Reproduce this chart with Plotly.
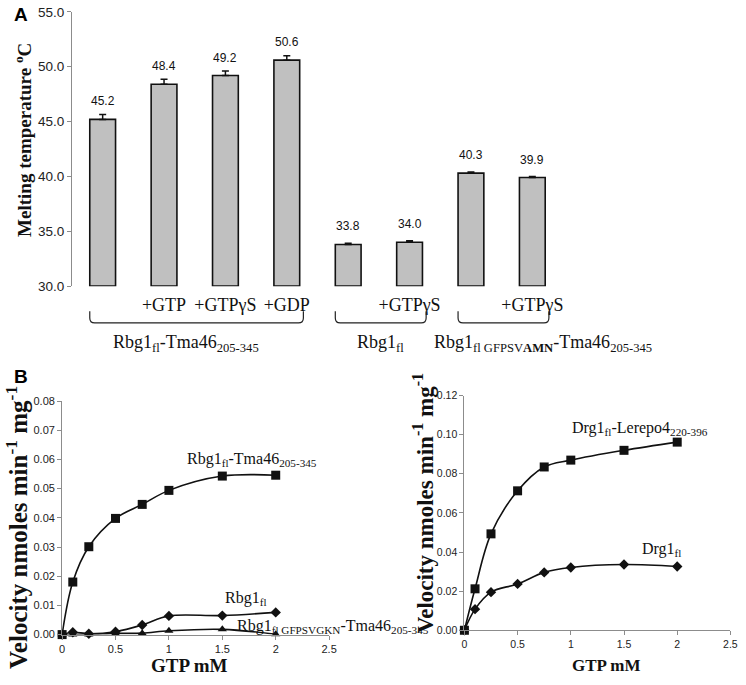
import plotly.graph_objects as go

W, H = 746, 685

# ---------------- Data: panel A ----------------
conditions = ["", "+GTP", "+GTPγS", "+GDP", "", "+GTPγS", "", "+GTPγS"]
melting_temp = [45.2, 48.4, 49.2, 50.6, 33.8, 34.0, 40.3, 39.9]
melting_err = [0.45, 0.45, 0.4, 0.4, 0.1, 0.15, 0.1, 0.1]
group_names = [
    "Rbg1<sub>fl</sub>-Tma46<sub>205-345</sub>",
    "Rbg1<sub>fl</sub>",
    "Rbg1<sub>fl GFPSV<b>AMN</b></sub>-Tma46<sub>205-345</sub>",
]
group_first = [0, 4, 6]
group_last = [3, 5, 7]
yA_ticks = [30, 35, 40, 45, 50, 55]

# ---------------- Data: panel B ----------------
gtp_mM = [0, 0.1, 0.25, 0.5, 0.75, 1, 1.5, 2]
rbg1_tma46 = [0, 0.0180, 0.0301, 0.0398, 0.0446, 0.0494, 0.0543, 0.0546]
rbg1 = [0, 0.0008, 0.0003, 0.0010, 0.0033, 0.0064, 0.0065, 0.0076]
rbg1_gkn_tma46 = [0, 0, 0, 0.0004, 0.0005, 0.0013, 0.0018, 0.0001]
drg1_lerepo4 = [0, 0.0212, 0.0493, 0.0713, 0.0835, 0.0870, 0.0920, 0.0962]
drg1 = [0, 0.0108, 0.0195, 0.0237, 0.0296, 0.0321, 0.0336, 0.0326]


def X(px):
    return px / W


def Y(py):
    return 1 - py / H


SERIF = "Liberation Serif, Times New Roman, serif"
SANS = "Liberation Sans, Arial, sans-serif"
AX_COL = "#8c8c8c"

fig = go.Figure()

# ---- Panel A bars ----
yA_min = yA_ticks[0]
xs = list(range(len(melting_temp)))
fig.add_trace(go.Bar(
    x=xs, y=[v - yA_min for v in melting_temp], base=yA_min, width=0.42,
    marker=dict(color="#c0c0c0", line=dict(color="#111111", width=1.6)),
    xaxis="x", yaxis="y", showlegend=False, cliponaxis=False,
))
fig.add_trace(go.Scatter(
    x=xs, y=melting_temp, mode="markers",
    marker=dict(size=1, opacity=0),
    error_y=dict(type="data", array=melting_err, arrayminus=[0] * len(melting_err),
                 symmetric=False, color="#111111", thickness=1.5, width=3.5),
    xaxis="x", yaxis="y", showlegend=False, cliponaxis=False,
))

annotations = []
for i, v in enumerate(melting_temp):
    annotations.append(dict(x=i, y=v, xref="x", yref="y", text=f"{v:.1f}",
                            showarrow=False, yshift=18,
                            font=dict(family=SANS, size=12, color="#111")))

shapes = []
yTop, yBot = Y(311.5), Y(323.5)
r_y = 5 / H
r_x = 0.08
for name, a, b in zip(group_names, group_first, group_last):
    x0, x1 = a - 0.21, b + 0.27
    path = (f"M {x0},{yTop} L {x0},{yBot + r_y} Q {x0},{yBot} {x0 + r_x},{yBot} "
            f"L {x1 - r_x},{yBot} Q {x1},{yBot} {x1},{yBot + r_y} L {x1},{yTop}")
    shapes.append(dict(type="path", path=path, xref="x", yref="paper",
                       line=dict(color="#222", width=1.2)))

group_centers = [186, 383, 548]
for name, cx in zip(group_names, group_centers):
    annotations.append(dict(x=X(cx), y=Y(345), xref="paper", yref="paper", text=name,
                            showarrow=False, xanchor="center", yanchor="middle",
                            font=dict(family=SERIF, size=18, color="#111")))

# ---- Panel B left ----
line_style = dict(color="#111", width=1.6, shape="spline", smoothing=1.0)
fig.add_trace(go.Scatter(x=gtp_mM, y=rbg1_gkn_tma46, mode="lines+markers", line=line_style,
                         marker=dict(symbol="triangle-up", size=8, color="#111"),
                         xaxis="x2", yaxis="y2", showlegend=False, cliponaxis=False))
fig.add_trace(go.Scatter(x=gtp_mM, y=rbg1, mode="lines+markers", line=line_style,
                         marker=dict(symbol="diamond", size=8, color="#111"),
                         xaxis="x2", yaxis="y2", showlegend=False, cliponaxis=False))
fig.add_trace(go.Scatter(x=gtp_mM, y=rbg1_tma46, mode="lines+markers", line=line_style,
                         marker=dict(symbol="square", size=9, color="#111"),
                         xaxis="x2", yaxis="y2", showlegend=False, cliponaxis=False))

# ---- Panel B right ----
fig.add_trace(go.Scatter(x=gtp_mM, y=drg1, mode="lines+markers", line=line_style,
                         marker=dict(symbol="diamond", size=8, color="#111"),
                         xaxis="x3", yaxis="y3", showlegend=False, cliponaxis=False))
fig.add_trace(go.Scatter(x=gtp_mM, y=drg1_lerepo4, mode="lines+markers", line=line_style,
                         marker=dict(symbol="square", size=9, color="#111"),
                         xaxis="x3", yaxis="y3", showlegend=False, cliponaxis=False))

# series labels
series_labels = [
    ("Rbg1<sub>fl</sub>-Tma46<sub>205-345</sub>", 185, 463, 16),
    ("Rbg1<sub>fl</sub>", 223, 605, 16),
    ("Rbg1<sub>fl GFPSVGKN</sub>-Tma46<sub>205-345</sub>", 235, 633, 16),
    ("Drg1<sub>fl</sub>-Lerepo4<sub>220-396</sub>", 575, 431, 16),
    ("Drg1<sub>fl</sub>", 647, 555, 16),
]
for t, lx, cy, sz in series_labels:
    annotations.append(dict(x=X(lx), y=Y(cy), xref="paper", yref="paper", text=t,
                            showarrow=False, xanchor="left", yanchor="middle",
                            font=dict(family=SERIF, size=sz, color="#111")))

# axis titles & panel letters
annotations += [
    dict(x=X(21), y=Y(137), text="Melting temperature <sup>o</sup>C", textangle=-90,
         font=dict(family=SERIF, size=19, color="#111", weight="bold")),
    dict(x=X(14), y=Y(532), text="Velocity nmoles min<sup>-1</sup> mg<sup>-1</sup>", textangle=-90,
         font=dict(family=SERIF, size=25, color="#111", weight="bold")),
    dict(x=X(427), y=Y(508), text="Velocity nmoles min<sup>-1</sup> mg<sup>-1</sup>", textangle=-90,
         font=dict(family=SERIF, size=23, color="#111", weight="bold")),
    dict(x=X(189), y=Y(673), text="GTP mM",
         font=dict(family=SERIF, size=19, color="#111", weight="bold")),
    dict(x=X(612), y=Y(673), text="GTP mM",
         font=dict(family=SERIF, size=17, color="#111", weight="bold")),
    dict(x=X(18), y=Y(9), text="A", font=dict(family=SANS, size=19, color="#000", weight="bold")),
    dict(x=X(18), y=Y(378), text="B", font=dict(family=SANS, size=19, color="#000", weight="bold")),
]
for a in annotations[-7:]:
    a.update(xref="paper", yref="paper", showarrow=False, xanchor="center", yanchor="middle")

common_axis = dict(showline=True, linecolor=AX_COL, linewidth=1, ticks="outside", ticklen=4,
                   tickcolor=AX_COL, showgrid=False, zeroline=False)

fig.update_layout(
    width=W, height=H, margin=dict(l=0, r=0, t=0, b=0),
    paper_bgcolor="white", plot_bgcolor="white", showlegend=False,
    xaxis=dict(domain=[X(70), X(693)], range=[-0.5, 9.5], anchor="y", showline=False,
               ticks="", tickvals=xs, ticktext=conditions, ticklabelstandoff=6,
               tickfont=dict(family=SERIF, size=18, color="#111"),
               showgrid=False, zeroline=False),
    yaxis=dict(domain=[Y(286), Y(6)], range=[yA_ticks[0], yA_ticks[-1]], anchor="x",
               tickvals=yA_ticks, tickformat=".1f",
               tickfont=dict(family=SANS, size=13.5, color="#222"), **common_axis),
    xaxis2=dict(domain=[X(60), X(331)], range=[0, 2.5], dtick=0.5, anchor="y2",
                tickfont=dict(family=SANS, size=11, color="#222"), **common_axis),
    yaxis2=dict(domain=[Y(641.7), Y(403.3)], range=[0, 0.08], dtick=0.01, tickformat=".2f",
                anchor="x2", tickfont=dict(family=SANS, size=11, color="#222"), **common_axis),
    xaxis3=dict(domain=[X(468.3), X(738.3)], range=[0, 2.5], dtick=0.5, anchor="y3",
                tickfont=dict(family=SANS, size=10.5, color="#222"), **common_axis),
    yaxis3=dict(domain=[Y(637.3), Y(397.7)], range=[0, 0.12], dtick=0.02, tickformat=".2f",
                anchor="x3", tickfont=dict(family=SANS, size=10.5, color="#222"), **common_axis),
    annotations=annotations,
    shapes=shapes,
)

fig.write_html("out.html", config={"displayModeBar": False},
               post_script="document.body.style.margin='0px';document.body.style.overflow='hidden';")
